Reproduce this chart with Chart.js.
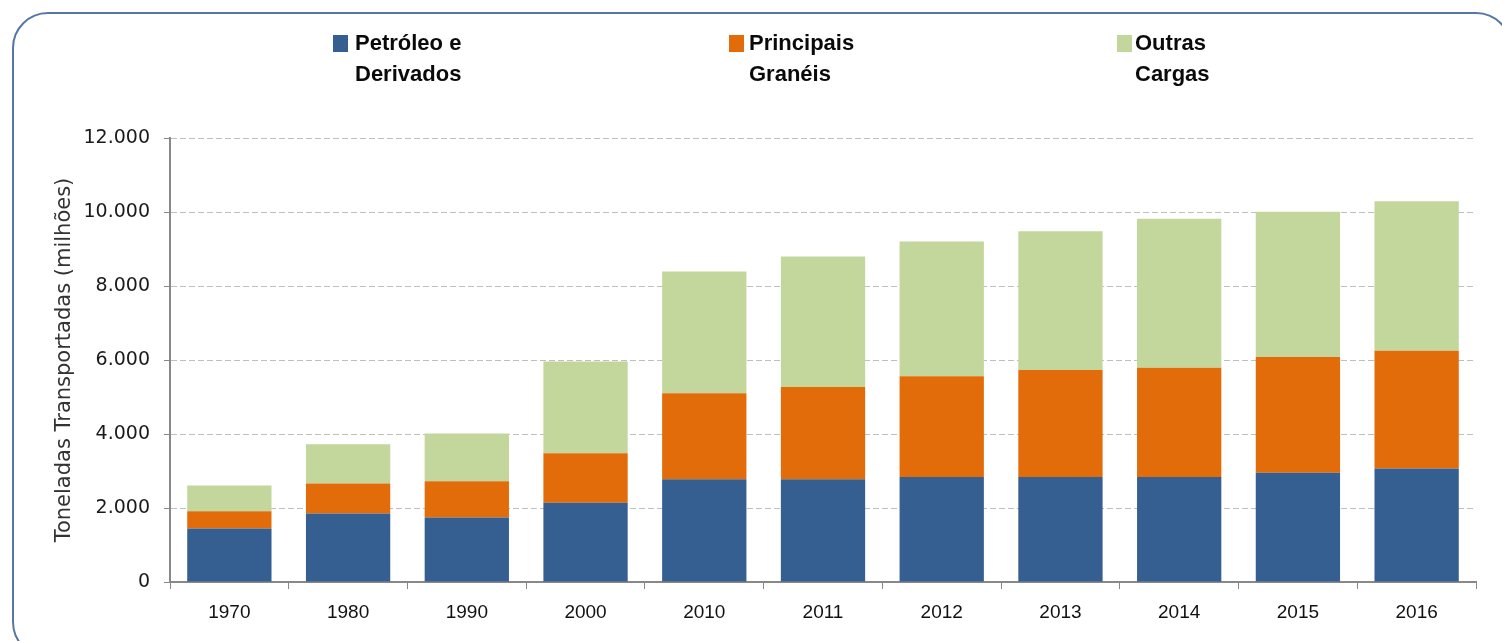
<!DOCTYPE html>
<html>
<head>
<meta charset="utf-8">
<script src="https://cdn.jsdelivr.net/npm/chart.js@4"></script>
<style>
  body { margin: 0; background: #fff; }
  #wrap { position: relative; width: 1502px; height: 641px; overflow: hidden; }
  #frame {
    position: absolute; left: 12px; top: 12px; width: 1500px; height: 646px;
    border: 2px solid #5677a3; border-radius: 36px; box-sizing: border-box;
    pointer-events: none;
  }
  canvas { position: absolute; left: 0; top: 0; }
</style>
</head>
<body>
<div id="wrap">
  <canvas id="chart" width="1502" height="641"></canvas>
  <div id="frame"></div>
</div>
<script>
//<![CDATA[

let years = ['1970', '1980', '1990', '2000', '2010', '2011', '2012', '2013', '2014', '2015', '2016'];
let petroleo = [1445, 1850, 1745, 2140, 2780, 2780, 2840, 2840, 2840, 2950, 3070];
let granéis = [470, 810, 980, 1340, 2320, 2490, 2720, 2890, 2950, 3130, 3180];
let outras = [690, 1060, 1290, 2480, 3290, 3530, 3640, 3750, 4030, 3930, 4040];
let seriesLines = [['Petróleo e', 'Derivados'], ['Principais', 'Granéis'], ['Outras', 'Cargas']];
let colors = ['#365f91', '#e36c0a', '#c3d69b'];
let yTitle = 'Toneladas Transportadas (milhões)';

// legend placement (square left x, text left x)
let legendPos = [[333, 355], [729, 749], [1117, 1135]];

const legendPlugin = {
    id: 'twoLineLegend',
    afterDraw(chart) {
        const ctx = chart.ctx;
        ctx.save();
        chart.data.datasets.forEach((ds, i) => {
            const [sx, tx] = legendPos[i];
            ctx.fillStyle = ds.backgroundColor;
            ctx.fillRect(sx, 35, 15, 17);
            ctx.fillStyle = '#0a0a0a';
            ctx.font = 'bold 22px "Liberation Sans Narrow", "Liberation Sans", sans-serif';
            ctx.textBaseline = 'middle';
            ctx.textAlign = 'left';
            seriesLines[i].forEach((line, j) => {
                ctx.fillText(line, tx, 44 + j * 31);
            });
        });
        ctx.restore();
    }
};

function fmt(v) {
    return v.toString().replace(/\B(?=(\d{3})+(?!\d))/g, '.');
}

const ctx = document.getElementById('chart');
const myChart = new Chart(ctx, {
    type: 'bar',
    data: {
        labels: years,
        datasets: [
            { label: seriesLines[0].join(' '), data: petroleo, backgroundColor: colors[0] },
            { label: seriesLines[1].join(' '), data: granéis, backgroundColor: colors[1] },
            { label: seriesLines[2].join(' '), data: outras, backgroundColor: colors[2] }
        ]
    },
    options: {
        responsive: false,
        animation: false,
        barPercentage: 0.71,
        categoryPercentage: 1,
        layout: {
            padding: { left: 50, right: 26, top: 138, bottom: 0 }
        },
        plugins: {
            legend: { display: false },
            tooltip: { enabled: false }
        },
        scales: {
            x: {
                stacked: true,
                afterFit: s => { s.height = 59; },
                grid: {
                    offset: true,
                    drawOnChartArea: false,
                    tickLength: 7,
                    tickColor: '#888'
                },
                border: { color: '#888', width: 2 },
                ticks: {
                    padding: 12,
                    color: '#111',
                    font: { family: '"Liberation Sans", sans-serif', size: 19 }
                }
            },
            y: {
                stacked: true,
                min: 0,
                max: 12000,
                afterFit: s => { s.width = 120; },
                grid: {
                    color: '#bfbfbf',
                    tickColor: '#888',
                    tickLength: 6
                },
                border: { color: '#888', width: 2, dash: [6, 3] },
                ticks: {
                    stepSize: 2000,
                    padding: 14,
                    color: '#1a1a1a',
                    font: { family: '"DejaVu Sans", sans-serif', size: 19 },
                    callback: v => fmt(v)
                },
                title: {
                    display: true,
                    text: yTitle,
                    color: '#333',
                    padding: 2,
                    font: { family: '"DejaVu Sans", sans-serif', size: 21 }
                }
            }
        }
    },
    plugins: [legendPlugin]
});

// ]]>
</script>
</body>
</html>
